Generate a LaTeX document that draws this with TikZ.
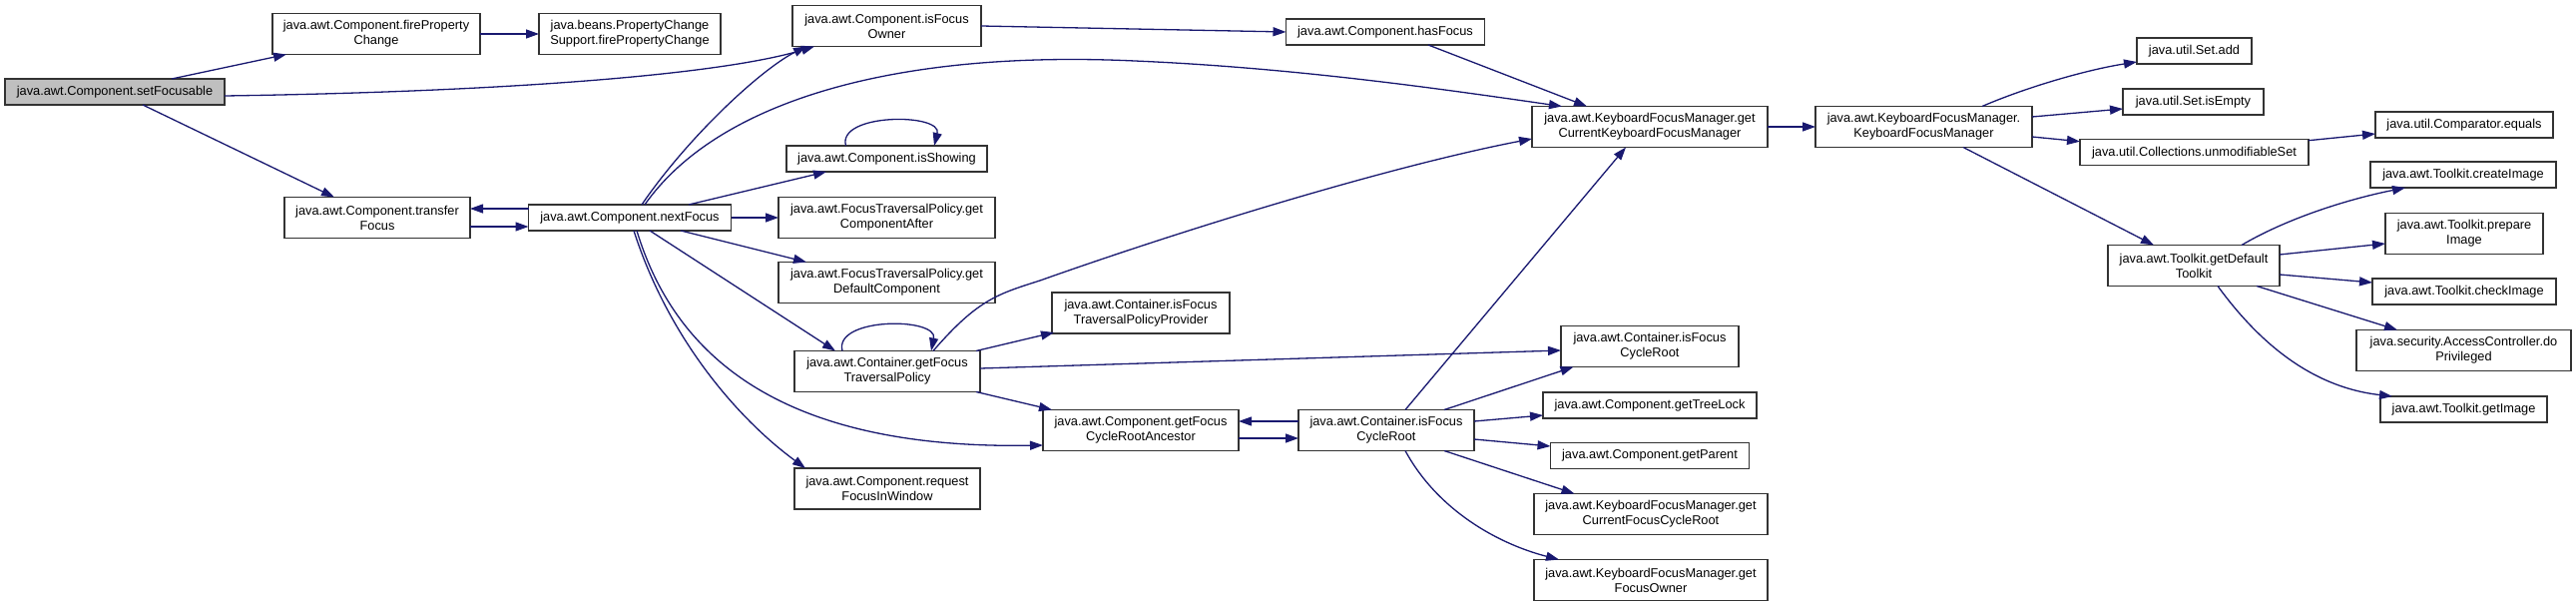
\documentclass[tikz,border=0pt]{standalone}
\usepackage{fontspec}
\setmainfont{Liberation Sans}
\usetikzlibrary{arrows.meta,calc}
\definecolor{edgeblue}{HTML}{191970}
\definecolor{rootgray}{HTML}{BFBFBF}
\begin{document}
\begin{tikzpicture}[x=1pt,y=-1pt,
  box/.style={draw=black!80, line width=1.3pt, fill=white, inner sep=0pt, outer sep=0pt, align=center, font=\fontsize{12.8}{15}\selectfont},
  bone/.style={box, minimum height=26pt},
  btwo/.style={box, minimum height=41pt},
  edge/.style={draw=edgeblue, line width=1.3pt, -{Triangle[length=13pt,width=9pt]}}]
\fill[white] (0,0) rectangle (2581,607);
\useasboundingbox (0,0) rectangle (2581,607);

% nodes
\node[bone, fill=rootgray, minimum width=220pt] (sf) at (115,92) {java.awt.Component.setFocusable};
\node[btwo, minimum width=208pt] (fpc) at (377,34) {java.awt.Component.fireProperty\\Change};
\node[btwo, minimum width=182pt] (pcs) at (631,34) {java.beans.PropertyChange\\Support.firePropertyChange};
\node[btwo, minimum width=186pt] (tf) at (378,218) {java.awt.Component.transfer\\Focus};
\node[bone, minimum width=203pt] (nf) at (631,218) {java.awt.Component.nextFocus};
\node[btwo, minimum width=189pt] (ifo) at (888.5,26) {java.awt.Component.isFocus\\Owner};
\node[bone, minimum width=199pt] (hf) at (1388,32) {java.awt.Component.hasFocus};
\node[btwo, minimum width=236pt] (gckfm) at (1653,127) {java.awt.KeyboardFocusManager.get\\CurrentKeyboardFocusManager};
\node[bone, minimum width=201pt] (ish) at (888.5,159) {java.awt.Component.isShowing};
\node[btwo, minimum width=217pt] (gca) at (888.5,218) {java.awt.FocusTraversalPolicy.get\\ComponentAfter};
\node[btwo, minimum width=217pt] (gdc) at (888.5,283) {java.awt.FocusTraversalPolicy.get\\DefaultComponent};
\node[btwo, minimum width=178pt] (iftpp) at (1143,313.5) {java.awt.Container.isFocus\\TraversalPolicyProvider};
\node[btwo, minimum width=186pt] (gftp) at (889,372) {java.awt.Container.getFocus\\TraversalPolicy};
\node[btwo, minimum width=178pt] (ifcrb) at (1653,347) {java.awt.Container.isFocus\\CycleRoot};
\node[bone, minimum width=214pt] (gtl) at (1653,406) {java.awt.Component.getTreeLock};
\node[bone, minimum width=199pt] (gp) at (1653,456.5) {java.awt.Component.getParent};
\node[btwo, minimum width=234pt] (gcfcr) at (1654,515) {java.awt.KeyboardFocusManager.get\\CurrentFocusCycleRoot};
\node[btwo, minimum width=234pt] (gfo) at (1654,581) {java.awt.KeyboardFocusManager.get\\FocusOwner};
\node[btwo, minimum width=196pt] (gfcra) at (1143,431) {java.awt.Component.getFocus\\CycleRootAncestor};
\node[btwo, minimum width=176pt] (ifcr) at (1389,431) {java.awt.Container.isFocus\\CycleRoot};
\node[btwo, minimum width=186pt] (rfiw) at (889,489.5) {java.awt.Component.request\\FocusInWindow};
\node[btwo, minimum width=217pt] (kfm) at (1927.5,127) {java.awt.KeyboardFocusManager.\\KeyboardFocusManager};
\node[bone, minimum width=115pt] (sadd) at (2198.5,51) {java.util.Set.add};
\node[bone, minimum width=141pt] (sie) at (2197.5,102) {java.util.Set.isEmpty};
\node[bone, minimum width=229pt] (cus) at (2198.5,152.7) {java.util.Collections.unmodifiableSet};
\node[bone, minimum width=178pt] (ceq) at (2469,125) {java.util.Comparator.equals};
\node[bone, minimum width=186pt] (tci) at (2468,175) {java.awt.Toolkit.createImage};
\node[btwo, minimum width=158pt] (tpi) at (2469,234) {java.awt.Toolkit.prepare\\Image};
\node[btwo, minimum width=172pt] (gdt) at (2198,266) {java.awt.Toolkit.getDefault\\Toolkit};
\node[bone, minimum width=184pt] (tchk) at (2469,292) {java.awt.Toolkit.checkImage};
\node[btwo, minimum width=215pt] (dop) at (2468.5,351) {java.security.AccessController.do\\Privileged};
\node[bone, minimum width=167pt] (tgi) at (2468.5,410) {java.awt.Toolkit.getImage};

% edges
\draw[edge] ($(sf.north)+(57,0)$) -- ($(fpc.south west)+(14,0)$);
\draw[edge] (fpc.east) -- (pcs.west);
\draw[edge] ($(sf.east)+(0,4)$) .. controls ($(sf.east)+(275,0)$) and ($(ifo.south west)+(-74,29)$) .. ($(ifo.south west)+(22,0)$);
\draw[edge] ($(sf.south)+(28,0)$) -- ($(tf.north)+(-43,0)$);
\draw[edge] ($(tf.east)+(0,9)$) -- ($(nf.west)+(0,9)$);
\draw[edge] ($(nf.west)+(0,-9)$) -- ($(tf.east)+(0,-9)$);
\draw[edge] ($(nf.north)+(12,0)$) .. controls ($(nf.north)+(60,-70)$) and ($(ifo.south west)+(-30,22)$) .. ($(ifo.south west)+(14,0)$);
\draw[edge] ($(nf.north)+(15,0)$) .. controls ($(nf.north)+(89,-105)$) and (900,50) .. (1137,61) .. controls (1300,68) and (1450,90) .. ($(gckfm.north west)+(30,0)$);
\draw[edge] ($(nf.north)+(59,0)$) -- ($(ish.south west)+(40,0)$);
\draw[edge] (nf.east) -- (gca.west);
\draw[edge] ($(nf.south)+(51,0)$) -- ($(gdc.north west)+(28,0)$);
\draw[edge] ($(nf.south)+(20,0)$) -- ($(gftp.north west)+(41,0)$);
\draw[edge] ($(nf.south)+(7,0)$) .. controls ($(nf.south)+(49,139)$) and ($(gfcra.west)+(-245,19)$) .. ($(gfcra.west)+(0,15)$);
\draw[edge] ($(nf.south)+(4,0)$) .. controls ($(nf.south)+(39,109)$) and ($(rfiw.north west)+(-56,-49)$) .. ($(rfiw.north west)+(11,0)$);
\draw[edge] ($(gftp.north)+(-45,0)$) .. controls ($(gftp.north)+(-54,-34)$) and ($(gftp.north)+(51,-34)$) .. ($(gftp.north)+(44,0)$);
\draw[edge] ($(ish.north)+(-41,0)$) .. controls ($(ish.north)+(-50,-33)$) and ($(ish.north)+(56,-33)$) .. ($(ish.north)+(47.5,0)$);
\draw[edge] ($(gftp.north)+(46,0)$) .. controls ($(gftp.north)+(91,-52)$) and ($(gftp.north)+(111,-57)$) .. (1042,281) .. controls (1200,225) and (1400,165) .. ($(gckfm.west)+(0,12)$);
\draw[edge] ($(gftp.north east)+(-4,0)$) -- ($(iftpp.south west)+(2,-1)$);
\draw[edge] ($(gftp.east)+(0,-3)$) -- ($(ifcrb.west)+(0,4)$);
\draw[edge] ($(gftp.south east)+(-4,0)$) -- ($(gfcra.north west)+(9,0)$);
\draw[edge] (ifo.east) -- (hf.west);
\draw[edge] ($(hf.south)+(43,0)$) -- ($(gckfm.north)+(-63,0)$);
\draw[edge] (gckfm.east) -- (kfm.west);
\draw[edge] ($(kfm.north)+(58.5,0)$) .. controls ($(kfm.north)+(102.5,-19)$) and ($(sadd.south west)+(-51,6)$) .. ($(sadd.south west)+(0,-2)$);
\draw[edge] ($(kfm.east)+(0,-10)$) -- ($(sie.west)+(0,7)$);
\draw[edge] ($(kfm.east)+(0,10)$) -- ($(cus.west)+(0,-11)$);
\draw[edge] ($(kfm.south)+(39.5,0)$) -- ($(gdt.north)+(-40,0)$);
\draw[edge] ($(cus.east)+(0,-12)$) -- ($(ceq.west)+(0,9)$);
\draw[edge] ($(gdt.north)+(48,0)$) .. controls ($(gdt.north)+(92,-26)$) and ($(tci.south west)+(-25,12)$) .. ($(tci.south west)+(35,0)$);
\draw[edge] ($(gdt.east)+(0,-11)$) -- ($(tpi.west)+(0,10)$);
\draw[edge] ($(gdt.east)+(0,9)$) -- ($(tchk.west)+(0,-9)$);
\draw[edge] ($(gdt.south)+(63,0)$) -- ($(dop.north west)+(41,0)$);
\draw[edge] ($(gdt.south)+(24,0)$) .. controls ($(gdt.south)+(67,59)$) and ($(tgi.north west)+(-67,-9)$) .. ($(tgi.north west)+(12,0)$);
\draw[edge] ($(gfcra.east)+(0,8)$) -- ($(ifcr.west)+(0,8)$);
\draw[edge] ($(ifcr.west)+(0,-9)$) -- ($(gfcra.east)+(0,-9)$);
\draw[edge] ($(ifcr.north)+(19,0)$) -- ($(gckfm.south)+(-24,0)$);
\draw[edge] ($(ifcr.north)+(58,0)$) -- ($(ifcrb.south west)+(12.5,0)$);
\draw[edge] ($(ifcr.east)+(0,-9)$) -- ($(gtl.west)+(0,10)$);
\draw[edge] ($(ifcr.east)+(0,9)$) -- ($(gp.west)+(0,-9.5)$);
\draw[edge] ($(ifcr.south)+(58,0)$) -- ($(gcfcr.north west)+(40.5,0)$);
\draw[edge] ($(ifcr.south)+(19,0)$) .. controls ($(ifcr.south)+(51,59)$) and ($(gfo.north west)+(-37,-16)$) .. ($(gfo.north west)+(25,0)$);
\end{tikzpicture}
\end{document}
